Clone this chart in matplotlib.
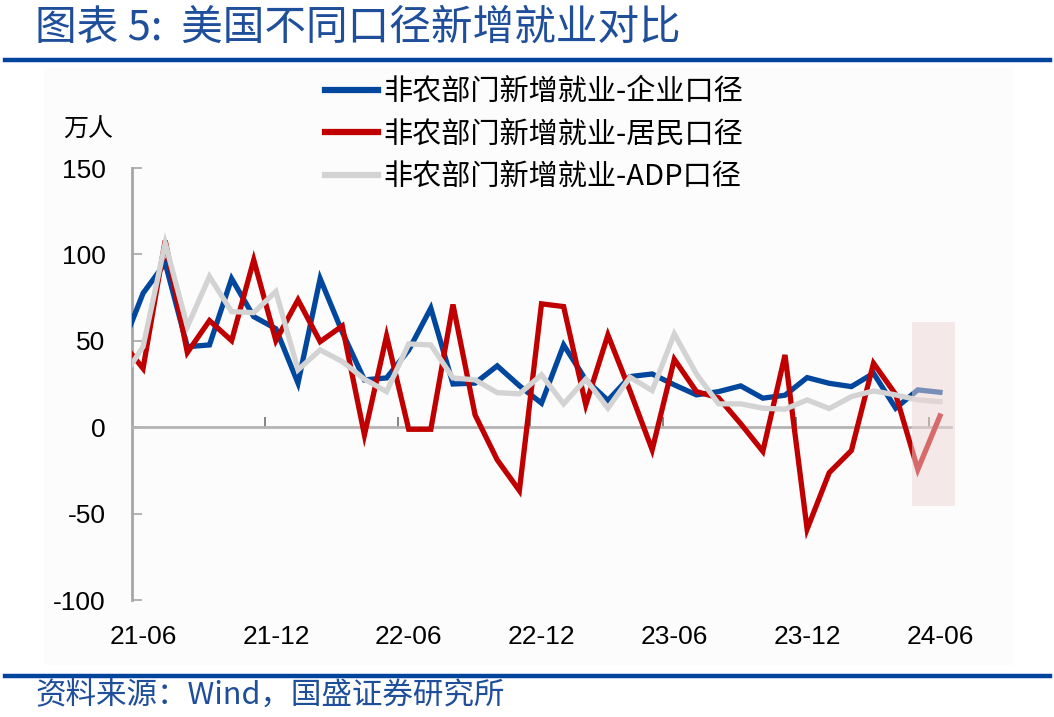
import matplotlib
matplotlib.use("Agg")
import matplotlib.pyplot as plt
from matplotlib.patches import Rectangle
import numpy as np
import pandas as pd

# ---- data (万人) ----
months = [p.strftime("%y-%m") for p in pd.period_range("2021-05", "2024-06", freq="M")]
tick_labels = ["21-06", "21-12", "22-06", "22-12", "23-06", "23-12", "24-06"]

payroll = [45, 77.5, 95, 46.6, 47.6, 86, 64, 57, 25.5, 86, 55, 27.4, 28.5, 44.6, 68.9,
           25, 25.5, 35.5, 24, 13.9, 47.6, 27.4, 15.5, 29.3, 30.8, 24.5, 18.7, 20.6,
           23.9, 16.8, 18.5, 28.7, 25.4, 23.5, 31.2, 11, 21.6, 20.2]
household = [50, 34, 108, 43.2, 61.7, 50.1, 96.8, 50.1, 73.7, 49.5, 58.6, -4.5, 52.8,
             -1.2, -1.2, 71, 7.1, -18.9, -36.7, 71.4, 69.8, 12.9, 53.4, 21, -13.1, 39.3,
             20.6, 17, 2, -14, 41.8, -59, -26.3, -13.5, 37, 19, -24.5, 6.5]
adp = [27, 46.6, 106.5, 58.2, 87.2, 66.9, 66.3, 78.5, 33.2, 44.7, 38, 27.8, 20.6, 48.2,
       47.6, 28.5, 27.4, 20, 19.3, 30.3, 13.5, 27.8, 11, 28.9, 21.2, 54, 30.8, 13.5,
       13.5, 11, 10.4, 15.8, 10.8, 17.7, 21, 18.7, 15.8, 14.8]

labels = ["非农部门新增就业-企业口径", "非农部门新增就业-居民口径", "非农部门新增就业-ADP口径"]
colors = ["#00479D", "#C00000", "#D3D3D3"]

plt.rcParams['font.family'] = ['Noto Sans CJK SC', 'DejaVu Sans']
num_font = ['Liberation Sans', 'DejaVu Sans']

fig = plt.figure(figsize=(10.54, 7.17), dpi=100)
W, H = 1054, 717

def fx(px):
    return px / W

def fy(py):
    return 1 - py / H

# faint chart background
fig.patches.append(Rectangle((fx(44), fy(665)), fx(1013) - fx(44), fy(68) - fy(665),
                             transform=fig.transFigure, facecolor="#FCFCFC",
                             edgecolor="none", zorder=-5))

ax = fig.add_axes([fx(132), fy(600), fx(951) - fx(132), fy(168) - fy(600)])
ax.set_facecolor("none")
ax.set_zorder(2)

x = np.arange(len(months))
for vals, c, lab in zip([payroll, household, adp], colors, labels):
    ax.plot(x, vals, color=c, lw=3.8, label=lab, solid_joinstyle="miter", zorder=3)

ax.set_xlim(0.5, len(months) - 0.5)
ax.set_ylim(-100, 150)
ax.set_yticks([-100, -50, 0, 50, 100, 150])
ax.set_yticklabels(["-100", "-50", "0", "50", "100", "150"], family=num_font, fontsize=19)
ax.tick_params(axis="y", direction="in", length=7, width=1.2, color="#A6A6A6", pad=19)

for s in ["top", "right"]:
    ax.spines[s].set_visible(False)
ax.spines["left"].set_color("#A6A6A6")
ax.spines["left"].set_linewidth(2)
ax.spines["bottom"].set_position(("data", 0))
ax.spines["bottom"].set_color("#B4B4B4")
ax.spines["bottom"].set_linewidth(2)

# ticks between categories, labels at category centres below plot
tick_idx = [months.index(t) for t in tick_labels]
ax.set_xticks([i - 0.5 for i in tick_idx[1:]])
ax.set_xticklabels([])
ax.tick_params(axis="x", direction="in", length=7, width=1.2, color="#707070")
for t, i in zip(tick_labels, tick_idx):
    ax.text(i, -0.085, t, transform=ax.get_xaxis_transform(), ha="center", va="center",
            family=num_font, fontsize=19)

# shaded (preliminary) region
ax.add_patch(Rectangle((35.73, -45.4), 1.95, 106.4, facecolor="#EFD6D6", alpha=0.5,
                       edgecolor="none", clip_on=False, zorder=5))

leg = ax.legend(loc="upper left", bbox_to_anchor=(fx(325), fy(77)),
                bbox_transform=fig.transFigure, frameon=False, fontsize=21,
                handlelength=1.8, handletextpad=0.2, labelspacing=0.43,
                borderaxespad=0, borderpad=0)
for line in leg.get_lines():
    line.set_linewidth(4.5)

fig.text(fx(88), fy(130), "万人", ha="center", va="center", fontsize=18)

# title and source
fig.text(fx(35), fy(28), "图表 5:  美国不同口径新增就业对比", ha="left", va="center",
         fontsize=30, color="#1F4E9A", style="italic")
fig.add_artist(plt.Line2D([fx(5), fx(1050)], [fy(60), fy(60)], color="#00449E", lw=3.2,
                          transform=fig.transFigure))
fig.add_artist(plt.Line2D([fx(5), fx(1050)], [fy(676), fy(676)], color="#00449E", lw=3.2,
                          transform=fig.transFigure))
fig.text(fx(35), fy(695), "资料来源：Wind，国盛证券研究所", ha="left", va="center",
         fontsize=22, color="#1F4E9A", style="italic")

fig.savefig("out.png", dpi=100)
